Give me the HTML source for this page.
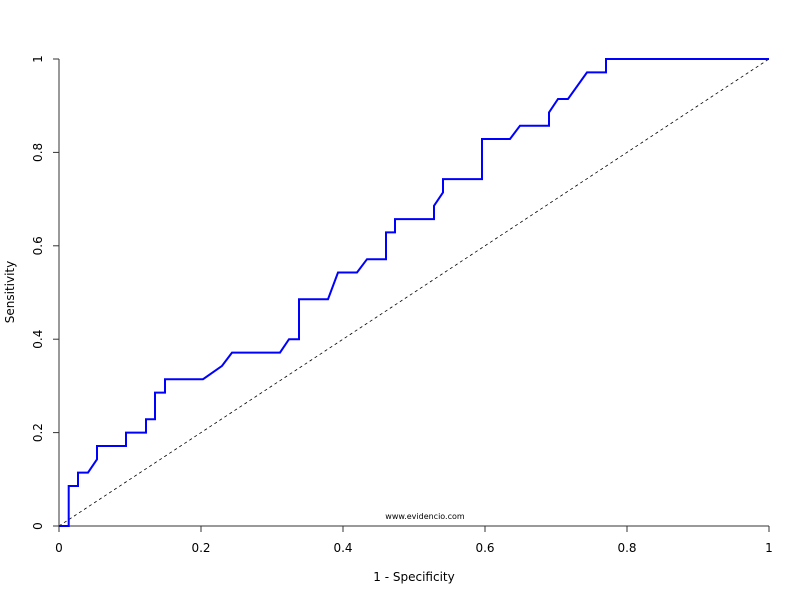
<!DOCTYPE html>
<html><head><meta charset="utf-8"><style>
body{margin:0;background:#fff}
svg text{font-family:"DejaVu Sans","Liberation Sans",sans-serif;fill:#000}
</style></head><body>
<svg width="800" height="600" viewBox="0 0 800 600" xmlns="http://www.w3.org/2000/svg">
<g id="axes"></g>
<line x1="59" y1="526" x2="769" y2="59" stroke="#000" stroke-width="0.8" stroke-dasharray="3,3"/>
<path id="roc" fill="none" stroke="#0000ff" stroke-width="2"/>
<text x="425" y="519" font-size="8" text-anchor="middle">www.evidencio.com</text>
<text x="414" y="581" font-size="12" text-anchor="middle">1 - Specificity</text>
<text x="14" y="292" font-size="12" text-anchor="middle" transform="rotate(-90 14 292)">Sensitivity</text>
</svg>
<script>
const fpr=[0,.0137,.0137,.0268,.0268,.0408,.0535,.0535,.0944,.0944,.1225,.1225,.1352,.1352,.1493,.1493,.2028,.2296,.2437,.3113,.3239,.338,.338,.3789,.393,.4197,.4338,.4606,.4606,.4732,.4732,.5282,.5282,.5408,.5408,.5958,.5958,.6352,.6493,.6901,.6901,.7028,.7169,.7437,.7704,.7704,1];
const tpr=[0,0,.0857,.0857,.1143,.1143,.1429,.1714,.1714,.2,.2,.2286,.2286,.2857,.2857,.3143,.3143,.3429,.3714,.3714,.4,.4,.4857,.4857,.5429,.5429,.5714,.5714,.6286,.6286,.6571,.6571,.6857,.7143,.7429,.7429,.8286,.8286,.8571,.8571,.8857,.9143,.9143,.9714,.9714,1,1];
const xTicks=[0,0.2,0.4,0.6,0.8,1];
const yTicks=[0,0.2,0.4,0.6,0.8,1];
const xTickLabels=["0","0.2","0.4","0.6","0.8","1"];
const yTickLabels=["0","0.2","0.4","0.6","0.8","1"];
const X=v=>59+v*710, Y=v=>526-v*467;
const NS="http://www.w3.org/2000/svg";
const ax=document.getElementById('axes');
function mk(tag,attrs){const e=document.createElementNS(NS,tag);for(const k in attrs)e.setAttribute(k,attrs[k]);return e;}
let l=mk('line',{x1:59,y1:526,x2:769,y2:526,stroke:'#333','stroke-width':1});


ax.appendChild(l);
l=mk('line',{x1:59,y1:526,x2:59,y2:59,stroke:'#333','stroke-width':1});


ax.appendChild(l);
xTicks.forEach((v,i)=>{
 const t=mk('line',{x1:X(v),y1:526,x2:X(v),y2:532,stroke:'#333'});
 
 
 ax.appendChild(t);
 const tx=mk('text',{x:X(v),y:552,'font-size':12,'text-anchor':'middle'});
 tx.textContent=xTickLabels[i];
 
 
 ax.appendChild(tx);
});
yTicks.forEach((v,i)=>{
 const t=mk('line',{x1:53,y1:Y(v),x2:59,y2:Y(v),stroke:'#333'});
 
 
 ax.appendChild(t);
 const tx=mk('text',{x:42,y:Y(v),'font-size':12,'text-anchor':'middle',transform:`rotate(-90 42 ${Y(v)})`});
 tx.textContent=yTickLabels[i];
 
 
 ax.appendChild(tx);
});
document.getElementById('roc').setAttribute('d',fpr.map((f,i)=>(i?'L':'M')+X(f).toFixed(1)+','+Y(tpr[i]).toFixed(1)).join(''));
</script>
</body></html>
